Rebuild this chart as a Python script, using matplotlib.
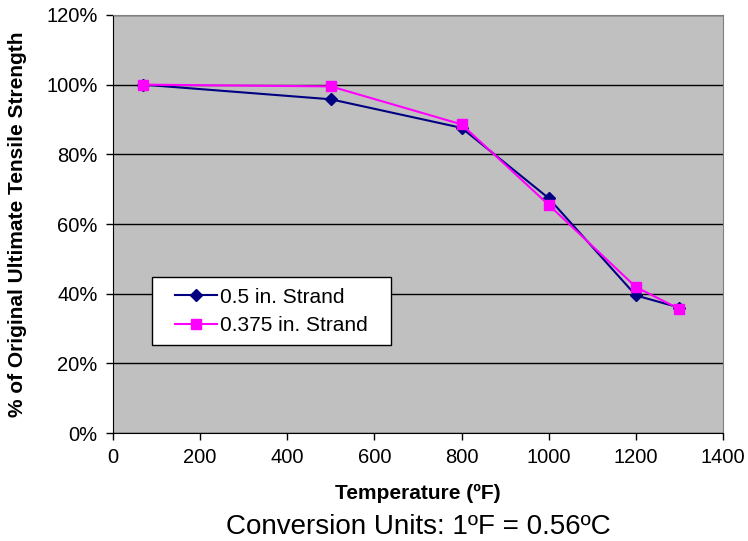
import matplotlib.pyplot as plt
from matplotlib.patches import Rectangle
from matplotlib.ticker import FuncFormatter
import numpy as np

plt.rcParams['font.family'] = ['Liberation Sans', 'DejaVu Sans']

temps = [70, 500, 800, 1000, 1200, 1300]
strand_05 = [100, 95.8, 87.6, 67.4, 39.5, 36.0]
strand_0375 = [100, 99.5, 88.6, 65.5, 41.9, 35.6]
labels = ['0.5 in. Strand', '0.375 in. Strand']

fig = plt.figure(figsize=(7.48, 5.41), dpi=100)
ax = fig.add_axes([0.151, 0.1996, 0.8156, 0.7727])
ax.set_facecolor('#c0c0c0')

ax.plot(temps, strand_05, color='#000080', marker='D', markersize=6,
        linewidth=1.5, label=labels[0], zorder=3)
ax.plot(temps, strand_0375, color='#ff00ff', marker='s', markersize=7,
        linewidth=1.5, label=labels[1], zorder=4)

ax.set_xlim(0, 1400)
ax.set_ylim(0, 120)
ax.set_xticks(np.arange(0, 1401, 200))
ax.set_yticks(np.arange(0, 121, 20))
ax.yaxis.set_major_formatter(FuncFormatter(lambda v, p: f'{v:.0f}%'))
ax.yaxis.grid(True, color='black', linewidth=1)
ax.set_axisbelow(True)

for s in ['left', 'bottom']:
    ax.spines[s].set_color('black')
for s in ['top', 'right']:
    ax.spines[s].set_color('#808080')
ax.tick_params(direction='out', length=5, width=1, labelsize=14.5, pad=6)

ax.set_xlabel('Temperature (ºF)', fontsize=15, fontweight='bold', va='center')
ax.xaxis.set_label_coords(0.5, -0.1435)
ax.set_ylabel('% of Original Ultimate Tensile Strength', fontsize=15,
              fontweight='bold', va='center')
ax.yaxis.set_label_coords(-0.156, 0.5)

# legend box drawn separately so its padding matches the original
box = Rectangle((0.0639, 0.2105), 0.3918, 0.1627, transform=ax.transAxes,
                facecolor='white', edgecolor='black', linewidth=1, zorder=5)
ax.add_patch(box)
leg = ax.legend(loc='upper left', bbox_to_anchor=(0.1016, 0.348), fontsize=15,
                frameon=False, borderpad=0, handlelength=2.0,
                handletextpad=0.15, labelspacing=0.45, borderaxespad=0)
leg.set_zorder(6)

fig.text(0.559, 0.026, 'Conversion Units: 1ºF = 0.56ºC', ha='center',
         va='center', fontsize=20)

fig.savefig('out.png', dpi=100)
